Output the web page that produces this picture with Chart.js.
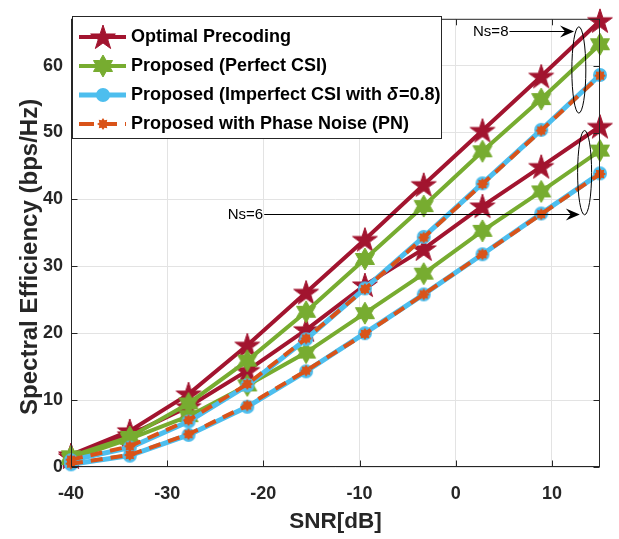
<!DOCTYPE html>
<html>
<head>
<meta charset="utf-8">
<script src="https://cdn.jsdelivr.net/npm/chart.js@4.4.1/dist/chart.umd.min.js"></script>
<style>
  html, body { margin: 0; padding: 0; background: #fff; }
  #wrap { width: 619px; height: 539px; }
</style>
</head>
<body>
<div id="wrap"><canvas id="se" width="619" height="539"></canvas></div>
<script>
// SNR sweep (dB)
const snrDb = [-40, -33.89, -27.78, -21.67, -15.56, -9.44, -3.33, 2.78, 8.89, 15];

// Spectral efficiency, Ns = 8
const optimalNs8    = [1.8, 5.4, 10.9, 18.2, 26.1, 34.0, 42.2, 50.3, 58.4, 66.7];
const perfectNs8    = [1.6, 4.5, 9.5, 15.9, 23.2, 31.1, 39.0, 47.2, 55.0, 63.2];
const imperfectNs8  = [1.0, 2.9, 6.8, 12.2, 19.1, 26.7, 34.4, 42.4, 50.4, 58.6];
const phaseNoiseNs8 = [1.1, 3.1, 7.0, 12.4, 19.2, 26.6, 34.3, 42.3, 50.3, 58.5];

// Spectral efficiency, Ns = 6
const optimalNs6    = [1.5, 4.8, 9.0, 14.4, 20.5, 27.2, 32.6, 39.0, 44.9, 50.9];
const perfectNs6    = [1.2, 4.2, 7.6, 12.2, 17.1, 23.0, 28.9, 35.3, 41.2, 47.3];
const imperfectNs6  = [0.4, 1.7, 4.8, 9.0, 14.3, 20.0, 25.8, 31.8, 37.9, 43.9];
const phaseNoiseNs6 = [0.5, 1.8, 4.9, 9.2, 14.4, 19.9, 25.8, 31.8, 37.8, 43.8];

const xTicks = [-40, -30, -20, -10, 0, 10];
const yTicks = [0, 10, 20, 30, 40, 50, 60];

const names = [
  'Optimal Precoding',
  'Proposed (Perfect CSI)',
  'Proposed (Imperfect CSI with \u03B4=0.8)',
  'Proposed with Phase Noise (PN)'
];
const yTitle = 'Spectral Efficiency (bps/Hz)';

const RED = '#A2142F', GREEN = '#77AC30', BLUE = '#4DBEEE', ORANGE = '#D95319';
const AXIS = '#262626';
const FONT = "'Liberation Sans', Arial, sans-serif";

// ---- marker bitmaps ----
function starPath(ctx, cx, cy, n, rOut, rIn) {
  ctx.beginPath();
  for (let i = 0; i < n * 2; i++) {
    const r = i % 2 === 0 ? rOut : rIn;
    const a = -Math.PI / 2 + i * Math.PI / n;
    const px = cx + r * Math.cos(a), py = cy + r * Math.sin(a);
    if (i === 0) ctx.moveTo(px, py); else ctx.lineTo(px, py);
  }
  ctx.closePath();
}

function marker(size, draw) {
  const c = document.createElement('canvas');
  c.width = c.height = size;
  draw(c.getContext('2d'), size / 2);
  return c;
}

const pentagram = marker(30, (ctx, m) => {
  starPath(ctx, m, m + 1, 5, 13, 13 * 0.382);
  ctx.fillStyle = RED; ctx.fill();
  ctx.strokeStyle = RED; ctx.lineWidth = 1; ctx.stroke();
});
const hexagram = marker(26, (ctx, m) => {
  starPath(ctx, m, m, 6, 11, 11 * 0.577);
  ctx.fillStyle = GREEN; ctx.fill();
  ctx.strokeStyle = GREEN; ctx.lineWidth = 1; ctx.stroke();
});
const dot = marker(18, (ctx, m) => {
  ctx.beginPath(); ctx.arc(m, m, 7, 0, Math.PI * 2);
  ctx.fillStyle = BLUE; ctx.fill();
});
const burst = marker(16, (ctx, m) => {
  starPath(ctx, m, m, 8, 6, 4);
  ctx.fillStyle = ORANGE; ctx.fill();
});

function series(label, values, color, width, dash, point, order) {
  return {
    label,
    data: snrDb.map((x, i) => ({ x, y: values[i] })),
    borderColor: color,
    backgroundColor: color,
    borderWidth: width,
    borderDash: dash,
    pointStyle: point,
    pointRadius: 6,
    tension: 0,
    clip: false,
    order
  };
}

const datasets = [
  series(names[0], optimalNs8, RED, 4, [], pentagram, 4),
  series(names[0], optimalNs6, RED, 4, [], pentagram, 4),
  series(names[1], perfectNs8, GREEN, 4, [], hexagram, 3),
  series(names[1], perfectNs6, GREEN, 4, [], hexagram, 3),
  series(names[2], imperfectNs8, BLUE, 5, [], dot, 2),
  series(names[2], imperfectNs6, BLUE, 5, [], dot, 2),
  series(names[3], phaseNoiseNs8, ORANGE, 4, [12, 8], burst, 1),
  series(names[3], phaseNoiseNs6, ORANGE, 4, [12, 8], burst, 1)
];

// legend rows: line sample + marker + text
const legendRows = [
  { color: RED, width: 4, dash: [], point: pentagram },
  { color: GREEN, width: 4, dash: [], point: hexagram },
  { color: BLUE, width: 5, dash: [], point: dot },
  { color: ORANGE, width: 4, dash: [15, 8], point: burst }
];

// Ns group annotations in data units
const groups = [
  { text: 'Ns=8', tx: 1.8, ty: 65.2, tipX: 12.3, ex: 12.8, eTop: 65.8, eBottom: 52.9 },
  { text: 'Ns=6', tx: -23.7, ty: 37.8, tipX: 12.9, ex: 13.4, eTop: 50.3, eBottom: 37.7 }
];

const boxAndExtras = {
  id: 'boxAndExtras',
  afterDatasetsDraw(chart) {
    const { ctx, chartArea: a, scales: { x, y } } = chart;
    ctx.save();
    ctx.strokeStyle = AXIS;
    ctx.lineWidth = 1;
    const L = a.left + 0.5, R = a.right - 0.5, T = a.top + 0.5, B = a.bottom - 0.5;
    ctx.strokeRect(L, T, R - L, B - T);
    ctx.beginPath();
    xTicks.forEach(v => {
      const px = Math.round(x.getPixelForValue(v)) + 0.5;
      ctx.moveTo(px, B); ctx.lineTo(px, B - 6);
      ctx.moveTo(px, T); ctx.lineTo(px, T + 6);
    });
    yTicks.forEach(v => {
      const py = Math.round(y.getPixelForValue(v)) + 0.5;
      ctx.moveTo(L, py); ctx.lineTo(L + 6, py);
      ctx.moveTo(R, py); ctx.lineTo(R - 6, py);
    });
    ctx.stroke();
    ctx.restore();
  },
  afterDraw(chart) {
    const { ctx, scales: { x, y } } = chart;
    ctx.save();

    // y axis title, centred a little below the middle of the axis
    ctx.save();
    ctx.translate(30, (y.top + y.bottom) / 2 + 14);
    ctx.rotate(-Math.PI / 2);
    ctx.font = 'bold 24px ' + FONT;
    ctx.fillStyle = AXIS;
    ctx.textAlign = 'center';
    ctx.textBaseline = 'middle';
    ctx.fillText(yTitle, 0, 0);
    ctx.restore();

    // Ns annotations: label, arrow, ellipse
    ctx.font = '15px ' + FONT;
    ctx.fillStyle = '#000';
    ctx.strokeStyle = '#000';
    ctx.lineWidth = 1;
    ctx.textBaseline = 'middle';
    groups.forEach(g => {
      const tx = x.getPixelForValue(g.tx), ty = Math.round(y.getPixelForValue(g.ty)) + 0.5;
      ctx.textAlign = 'left';
      ctx.fillText(g.text, tx, ty);
      const start = tx + ctx.measureText(g.text).width + 1;
      const tip = x.getPixelForValue(g.tipX);
      ctx.beginPath(); ctx.moveTo(start, ty); ctx.lineTo(tip - 6, ty); ctx.stroke();
      ctx.beginPath();
      ctx.moveTo(tip, ty);
      ctx.lineTo(tip - 14, ty - 6);
      ctx.lineTo(tip - 9, ty);
      ctx.lineTo(tip - 14, ty + 6);
      ctx.closePath(); ctx.fill();
      const ex = x.getPixelForValue(g.ex);
      const e1 = y.getPixelForValue(g.eTop), e2 = y.getPixelForValue(g.eBottom);
      ctx.beginPath();
      ctx.ellipse(ex, (e1 + e2) / 2, 7, (e2 - e1) / 2, 0, 0, Math.PI * 2);
      ctx.stroke();
    });

    // legend box
    const bx = 72.5, by = 16.5, bw = 369, bh = 122;
    ctx.fillStyle = '#fff';
    ctx.fillRect(bx, by, bw, bh);
    ctx.strokeStyle = AXIS;
    ctx.strokeRect(bx, by, bw, bh);
    ctx.font = 'bold 18px ' + FONT;
    ctx.textAlign = 'left';
    ctx.textBaseline = 'middle';
    legendRows.forEach((r, i) => {
      const ry = 37 + i * 29;
      ctx.save();
      ctx.strokeStyle = r.color;
      ctx.lineWidth = r.width;
      ctx.setLineDash(r.dash);
      ctx.beginPath(); ctx.moveTo(79, ry); ctx.lineTo(126, ry); ctx.stroke();
      ctx.restore();
      ctx.drawImage(r.point, 103 - r.point.width / 2, ry - r.point.height / 2);
      ctx.fillStyle = '#000';
      if (i === 2) {
        const a = 'Proposed (Imperfect CSI with ';
        let px = 131;
        ctx.fillText(a, px, ry); px += ctx.measureText(a).width;
        ctx.font = 'italic bold 18px ' + FONT;
        ctx.fillText('\u03B4', px, ry); px += ctx.measureText('\u03B4').width + 1;
        ctx.font = 'bold 18px ' + FONT;
        ctx.fillText('=0.8)', px, ry);
      } else {
        ctx.fillText(names[i], 131, ry);
      }
    });
    ctx.restore();
  }
};

new Chart(document.getElementById('se'), {
  type: 'line',
  data: { datasets },
  options: {
    responsive: false,
    animation: false,
    devicePixelRatio: 1,
    layout: { padding: { top: 15, right: 19, left: 0, bottom: 0 } },
    plugins: { legend: { display: false }, tooltip: { enabled: false } },
    scales: {
      x: {
        type: 'linear',
        min: -40,
        max: 15,
        afterBuildTicks: s => { s.ticks = xTicks.map(v => ({ value: v })); },
        afterFit: s => { s.height = 72; },
        grid: { color: '#e3e3e3', drawTicks: false },
        border: { display: false },
        ticks: { color: AXIS, padding: 16, font: { family: FONT, size: 18, weight: 'bold' } },
        title: {
          display: true, text: 'SNR[dB]', color: AXIS,
          font: { family: FONT, size: 22.5, weight: 'bold' },
          padding: { top: 4, bottom: 4 }
        }
      },
      y: {
        min: 0,
        max: 67,
        afterBuildTicks: s => { s.ticks = yTicks.map(v => ({ value: v })); },
        afterFit: s => { s.width = 71; },
        grid: { color: '#e3e3e3', drawTicks: false },
        border: { display: false },
        ticks: { color: AXIS, padding: 8, font: { family: FONT, size: 18, weight: 'bold' } }
      }
    }
  },
  plugins: [boxAndExtras]
});
</script>
</body>
</html>
